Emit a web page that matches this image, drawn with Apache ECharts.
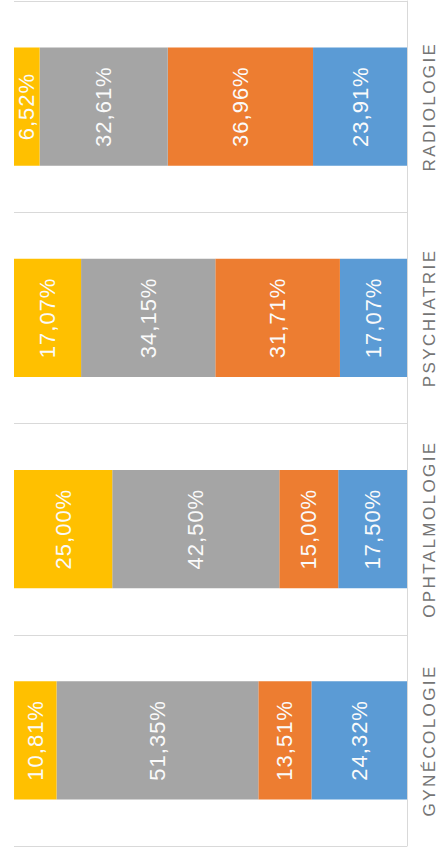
<!DOCTYPE html>
<html>
<head>
<meta charset="utf-8">
<script src="https://cdn.jsdelivr.net/npm/echarts@6/dist/echarts.min.js"></script>
<style>
  html, body { margin: 0; padding: 0; background: #ffffff; }
  #chart { width: 438px; height: 854px; }
</style>
</head>
<body>
<div id="chart"></div>
<script>
// Categories listed bottom to top
var categories = ['GYNÉCOLOGIE', 'OPHTALMOLOGIE', 'PSYCHIATRIE', 'RADIOLOGIE'];
// Series stacked from the right edge to the left edge
var serieBleue  = [24.32, 17.50, 17.07, 23.91];
var serieOrange = [13.51, 15.00, 31.71, 36.96];
var serieGrise  = [51.35, 42.50, 34.15, 32.61];
var serieJaune  = [10.81, 25.00, 17.07, 6.52];
var seriesNames = ['Série 1', 'Série 2', 'Série 3', 'Série 4'];
var seriesColors = ['#5B9BD5', '#ED7D31', '#A5A5A5', '#FFC000'];
var seriesData = [serieBleue, serieOrange, serieGrise, serieJaune];

var chart = echarts.init(document.getElementById('chart'), null, { renderer: 'svg' });

function fmt(p) {
  return p.value.toFixed(2).replace('.', ',') + '%';
}

var series = seriesData.map(function (d, i) {
  return {
    name: seriesNames[i],
    type: 'bar',
    stack: 'total',
    data: d,
    barWidth: '56%',
    itemStyle: { color: seriesColors[i] },
    label: {
      show: true,
      position: 'inside',
      rotate: 90,
      color: '#fafafa',
      fontFamily: 'Liberation Sans',
      fontSize: 22,
      formatter: fmt
    }
  };
});

chart.setOption({
  animation: false,
  backgroundColor: '#ffffff',
  grid: { left: 14, right: 31, top: 1, bottom: 8, containLabel: false },
  xAxis: {
    type: 'value',
    min: 0,
    max: 100,
    inverse: true,
    show: false
  },
  yAxis: {
    type: 'category',
    position: 'right',
    data: categories,
    axisLine: { show: true, lineStyle: { color: '#d9d9d9', width: 1 } },
    axisTick: { show: false },
    splitLine: { show: true, lineStyle: { color: '#d9d9d9', width: 1 } },
    axisLabel: {
      rotate: 90,
      margin: 14,
      color: '#757575',
      fontFamily: 'Liberation Sans',
      fontSize: 17
    }
  },
  series: series
});

// Letter spacing as in the reference
document.querySelectorAll('#chart text').forEach(function (t) {
  if (categories.indexOf(t.textContent) >= 0) {
    t.style.letterSpacing = '2.4px';
  } else if (/%$/.test(t.textContent)) {
    t.style.letterSpacing = '1px';
  }
});
</script>
</body>
</html>
